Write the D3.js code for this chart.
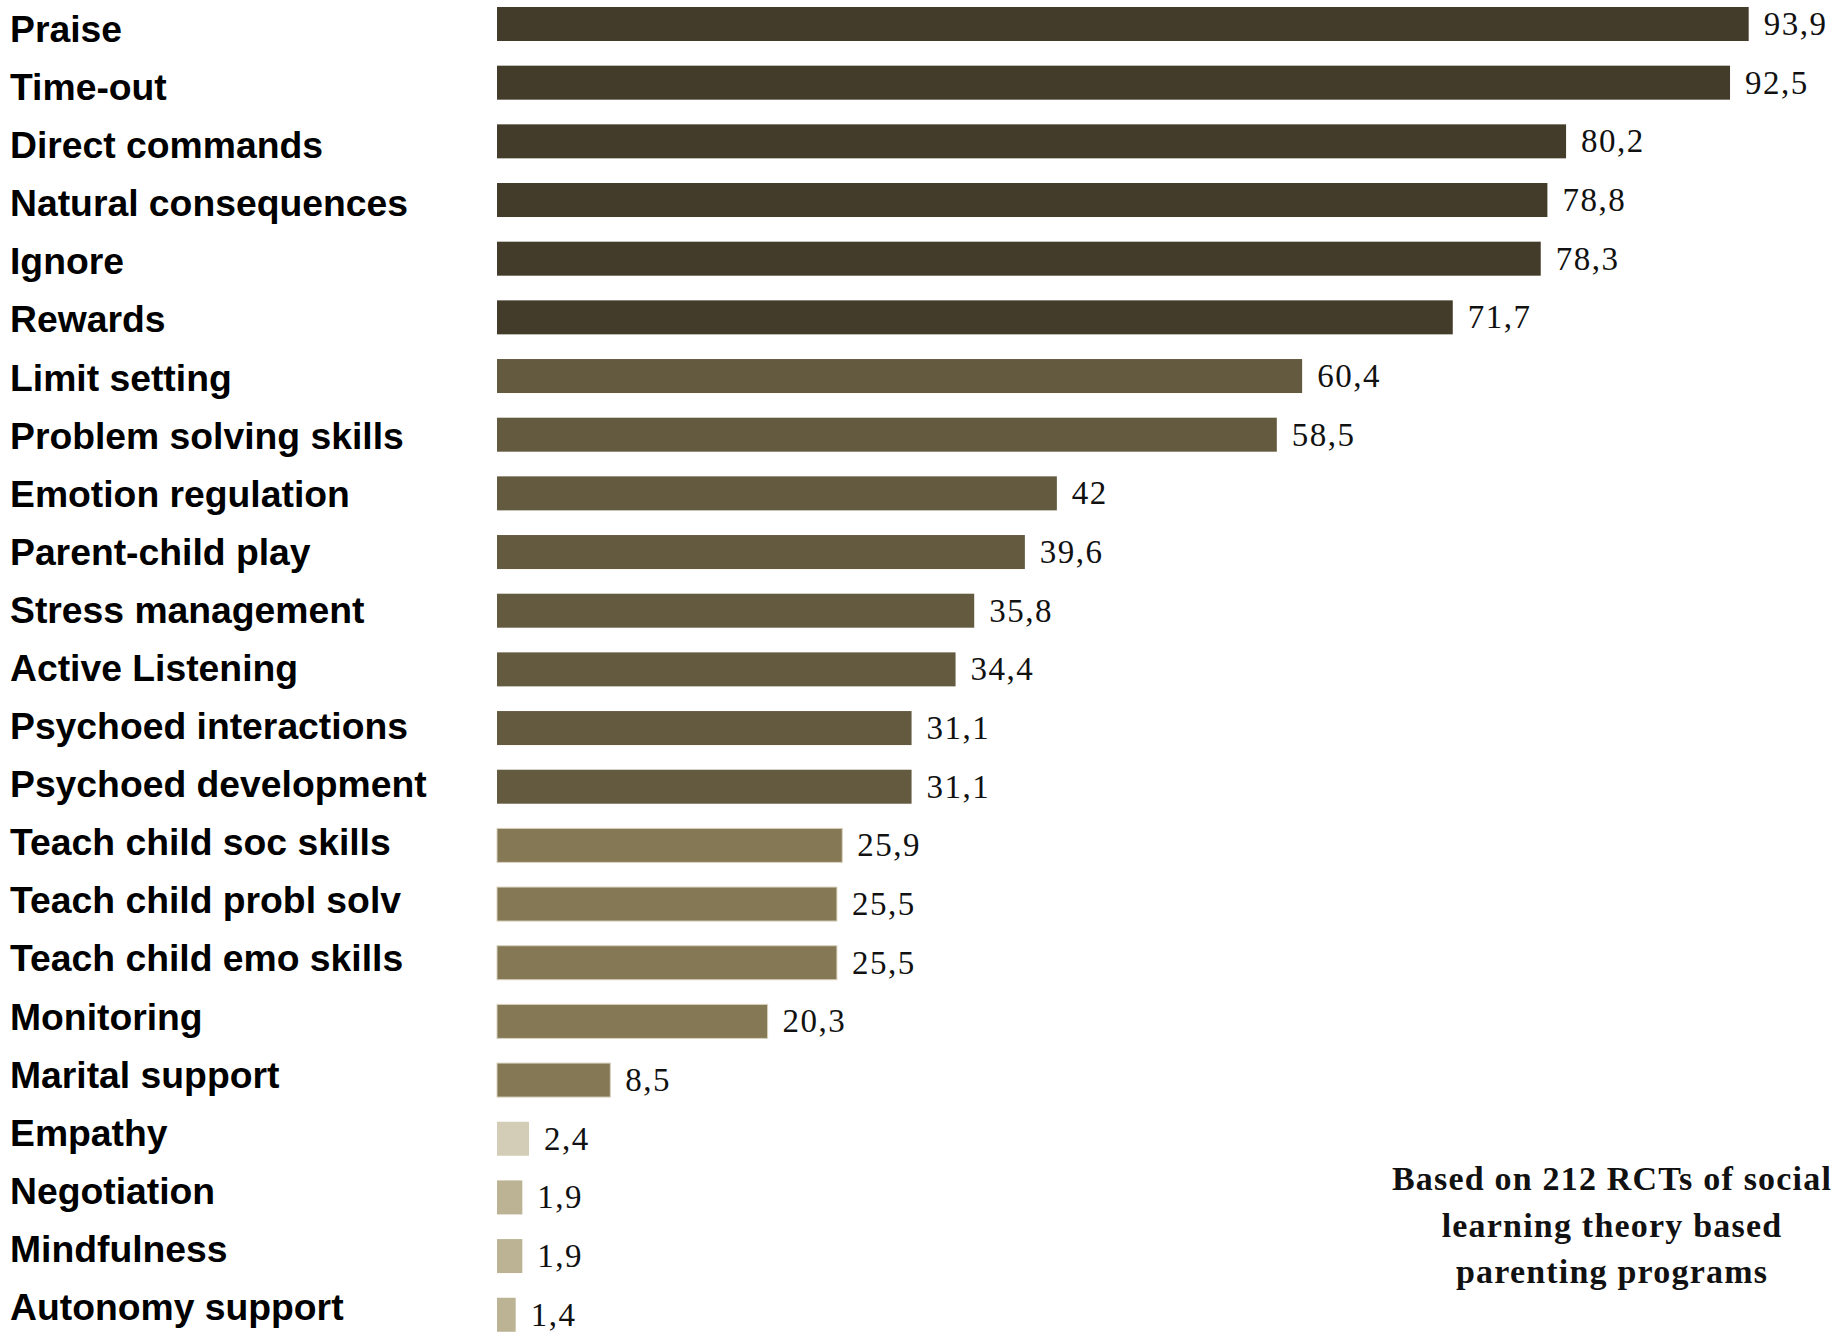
<!DOCTYPE html>
<html>
<head>
<meta charset="utf-8">
<script src="https://cdn.jsdelivr.net/npm/d3@7"></script>
<style>
  html, body { margin: 0; padding: 0; background: #ffffff; }
  svg { display: block; }
</style>
</head>
<body>
<script>
// Share of programs (%) that include each component
const categories = [
  "Praise", "Time-out", "Direct commands", "Natural consequences", "Ignore",
  "Rewards", "Limit setting", "Problem solving skills", "Emotion regulation",
  "Parent-child play", "Stress management", "Active Listening",
  "Psychoed interactions", "Psychoed development", "Teach child soc skills",
  "Teach child probl solv", "Teach child emo skills", "Monitoring",
  "Marital support", "Empathy", "Negotiation", "Mindfulness", "Autonomy support"
];
const values = [
  93.9, 92.5, 80.2, 78.8, 78.3, 71.7, 60.4, 58.5, 42, 39.6, 35.8, 34.4,
  31.1, 31.1, 25.9, 25.5, 25.5, 20.3, 8.5, 2.4, 1.9, 1.9, 1.4
];
// Frequency tier of each component
const tiers = [
  "core", "core", "core", "core", "core", "core",
  "common", "common", "common", "common", "common", "common", "common", "common",
  "occasional", "occasional", "occasional", "occasional", "occasional",
  "rare-empathy", "rare", "rare", "rare"
];
const tierNames = ["core", "common", "occasional", "rare-empathy", "rare"];
const noteLines = [
  "Based on 212 RCTs of social",
  "learning theory based",
  "parenting programs"
];

const W = 1848, H = 1332;
const svg = d3.select("body").append("svg")
  .attr("width", W).attr("height", H);

const x = d3.scaleLinear().domain([0, 100]).range([497, 1830]);

// bars: 34px tall, 58.67px pitch starting at y=7
const y = d3.scaleBand()
  .domain(categories)
  .range([7 - 12.33, 7 - 12.33 + 58.67 * categories.length])
  .paddingInner(24.67 / 58.67)
  .paddingOuter(12.33 / 58.67);

// left-hand category labels sit on their own slightly tighter grid
const yLabel = d3.scalePoint()
  .domain(categories)
  .range([42, 1320]);

const color = d3.scaleOrdinal()
  .domain(tierNames)
  .range(["#443c2b", "#645a40", "#847855", "#d3ccb6", "#bbb393"]);

const data = categories.map((c, i) => ({ name: c, value: values[i], tier: tiers[i] }));

svg.append("g").selectAll("rect")
  .data(data)
  .join("rect")
  .attr("x", x(0))
  .attr("y", d => y(d.name))
  .attr("width", d => x(d.value) - x(0))
  .attr("height", y.bandwidth())
  .attr("fill", d => color(d.tier))
  .attr("stroke", d => d.tier === "occasional" ? "#d8d1bc" : "none")
  .attr("stroke-width", 1);

svg.append("g").selectAll("text")
  .data(data)
  .join("text")
  .attr("x", 10)
  .attr("y", d => yLabel(d.name))
  .attr("font-family", "'Liberation Sans', Arial, sans-serif")
  .attr("font-weight", "bold")
  .attr("font-size", 37.3)
  .attr("fill", "#000")
  .text(d => d.name);

const fmt = v => String(v).replace(".", ",");

svg.append("g").selectAll("text")
  .data(data)
  .join("text")
  .attr("x", d => x(d.value) + 15)
  .attr("y", d => y(d.name) + y.bandwidth() / 2 + 11)
  .attr("font-family", "'Liberation Serif', 'Times New Roman', serif")
  .attr("font-size", 33)
  .attr("letter-spacing", 1.5)
  .attr("fill", "#111")
  .text(d => fmt(d.value));

svg.append("g").selectAll("text")
  .data(noteLines)
  .join("text")
  .attr("x", 1612)
  .attr("y", (d, i) => 1190 + i * 46.5)
  .attr("text-anchor", "middle")
  .attr("font-family", "'Liberation Serif', 'Times New Roman', serif")
  .attr("font-weight", "bold")
  .attr("font-size", 34)
  .attr("letter-spacing", 1.2)
  .attr("fill", "#111")
  .text(d => d);
</script>
</body>
</html>
